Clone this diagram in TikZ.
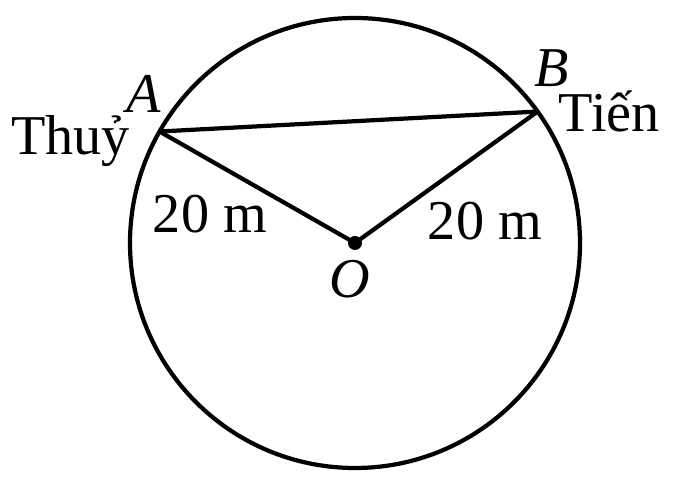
\documentclass[tikz,border=0pt]{standalone}
\usepackage{fontspec}
\setmainfont{Liberation Serif}
\usetikzlibrary{calc}
\begin{document}
\begin{tikzpicture}[line width=2.4pt, every node/.style={font=\fontsize{32}{36}\selectfont, anchor=base, inner sep=0pt}]
\useasboundingbox (0,0) rectangle (13.64,-9.74);

\coordinate (O) at (7.1,-4.86);
\coordinate (A) at ($(O)+(150.3:4.5)$);
\coordinate (B) at ($(O)+(35.75:4.5)$);

\draw (O) circle (4.5);
\draw (A) -- (B);
\draw (A) -- (O) -- (B);
\fill (O) circle (0.14);

\node (a) at (2.87,-2.26){\textit{A}};
\node (b) at (11.04,-1.74){\textit{B}};
\node (o) at (7.0,-5.96){\textit{O}};
\node (thuy) at (1.41,-3.1){Thuỷ};
\node (tien) at (12.19,-2.64){Tiến};
\node (oa) at (4.2,-4.66){20 m};
\node (ob) at (9.7,-4.8){20 m};

\end{tikzpicture}
\end{document}
